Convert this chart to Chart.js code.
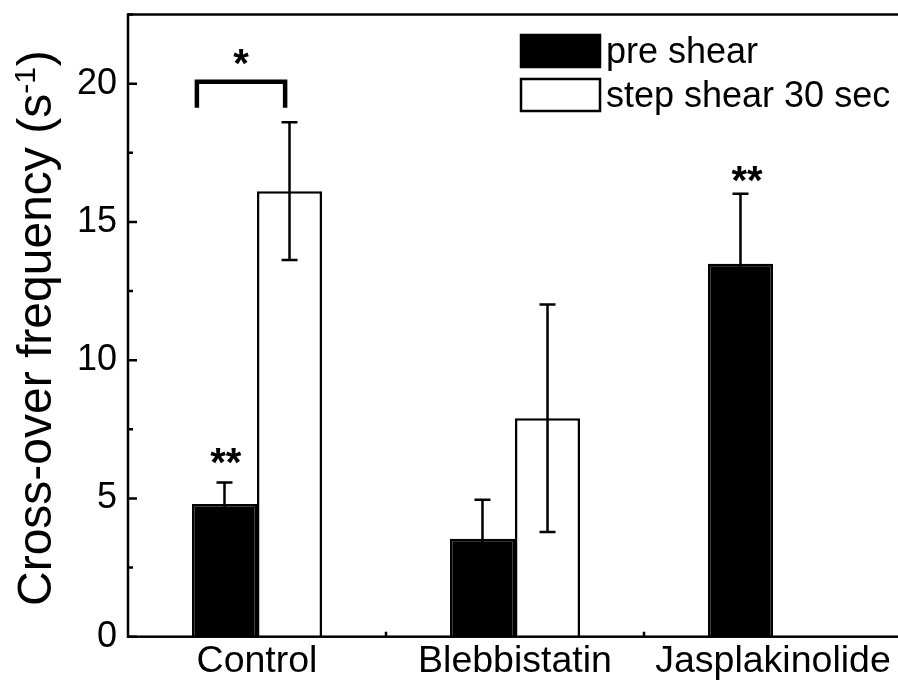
<!DOCTYPE html>
<html>
<head>
<meta charset="utf-8">
<script src="https://cdn.jsdelivr.net/npm/chart.js@4.4.1/dist/chart.umd.min.js"></script>
<style>
body { margin: 0; background: #fff; overflow: hidden; }
#wrap { width: 910px; height: 682px; }
</style>
</head>
<body>
<div id="wrap"><canvas id="chart1"></canvas></div>
<script>
var categories = ['Control', 'Blebbistatin', 'Jasplakinolide']
var seriesNames = ['pre shear', 'step shear 30 sec']
var preShear = [4.8, 3.54, 13.49]
var preShearErr = [0.78, 1.41, 2.53]
var stepShear = [16.11, 7.9, null]
var stepShearErr = [2.49, 4.11, null]
var yTicks = [0, 5, 10, 15, 20]

// significance marks: category, dataset, x shift (bar widths), y of the mark centre, text
var sigMarks = [
    [0, 0, 0.02, 6.54, '**'],
    [2, 0, 0.1, 16.73, '**']
]
// bracket over control: x from/to as fraction of category width, y bottom/top, star y
var bracketX = [-0.233, 0.109]
var bracketY = [19.13, 20.07]
var bracketStarY = 20.95

var FONT = '"Liberation Sans", Arial, sans-serif'

function px(size, bold) {
    return (bold ? 'bold ' : '') + size + 'px ' + FONT
}

function drawStar(ctx, text, x, yc, size) {
    ctx.font = px(size, true)
    var m = ctx.measureText(text)
    var base = yc - (m.actualBoundingBoxDescent - m.actualBoundingBoxAscent) / 2
    ctx.textAlign = 'center'
    ctx.textBaseline = 'alphabetic'
    ctx.fillText(text, x, base)
}

var extras = {
    id: 'extras',
    afterDatasetsDraw: function(chart) {
        var ctx = chart.ctx
        var xs = chart.scales.x
        var ys = chart.scales.y
        var area = chart.chartArea
        ctx.save()
        ctx.strokeStyle = '#000'
        ctx.fillStyle = '#000'

        // error bars
        var errs = [preShearErr, stepShearErr]
        ctx.lineWidth = 2.5
        for (var d = 0; d < 2; d++) {
            var meta = chart.getDatasetMeta(d)
            var vals = chart.data.datasets[d].data
            for (var i = 0; i < vals.length; i++) {
                if (vals[i] == null) continue
                var x = meta.data[i].x
                var top = ys.getPixelForValue(vals[i] + errs[d][i])
                var bot = ys.getPixelForValue(vals[i] - errs[d][i])
                ctx.beginPath()
                ctx.moveTo(x, bot); ctx.lineTo(x, top)
                ctx.moveTo(x - 8, top); ctx.lineTo(x + 8, top)
                ctx.moveTo(x - 8, bot); ctx.lineTo(x + 8, bot)
                ctx.stroke()
            }
        }

        // stars
        for (var s = 0; s < sigMarks.length; s++) {
            var mk = sigMarks[s]
            var el = chart.getDatasetMeta(mk[1]).data[mk[0]]
            drawStar(ctx, mk[4], el.x + mk[2] * el.width, ys.getPixelForValue(mk[3]), 40)
        }

        // bracket
        var catW = xs.getPixelForValue(1) - xs.getPixelForValue(0)
        var c0 = xs.getPixelForValue(0)
        var bx0 = c0 + bracketX[0] * catW
        var bx1 = c0 + bracketX[1] * catW
        var by0 = ys.getPixelForValue(bracketY[0])
        var by1 = ys.getPixelForValue(bracketY[1])
        ctx.lineWidth = 4.5
        ctx.lineJoin = 'miter'
        ctx.beginPath()
        ctx.moveTo(bx0, by0); ctx.lineTo(bx0, by1); ctx.lineTo(bx1, by1); ctx.lineTo(bx1, by0)
        ctx.stroke()
        drawStar(ctx, '*', (bx0 + bx1) / 2, ys.getPixelForValue(bracketStarY), 40)

        // frame
        ctx.lineWidth = 2.5
        ctx.strokeRect(area.left, area.top, area.right - area.left, area.bottom - area.top)

        // inward ticks on y
        ctx.beginPath()
        for (var v = 0; v <= ys.max; v += 2.5) {
            var yy = ys.getPixelForValue(v)
            var len = (v % 5 == 0) ? 9 : 5
            ctx.moveTo(area.left, yy); ctx.lineTo(area.left + len, yy)
        }
        // small ticks between categories on x
        for (var c = 0; c < categories.length - 1; c++) {
            var xb = (xs.getPixelForValue(c) + xs.getPixelForValue(c + 1)) / 2
            ctx.moveTo(xb, area.bottom); ctx.lineTo(xb, area.bottom - 5)
        }
        ctx.stroke()

        // legend
        var lx = area.left + 393
        var ly = [35, 79]
        var ds = chart.data.datasets
        ctx.font = px(36)
        ctx.textAlign = 'left'
        ctx.textBaseline = 'alphabetic'
        for (var k = 0; k < ds.length; k++) {
            ctx.fillStyle = ds[k].backgroundColor
            ctx.fillRect(lx, ly[k], 79, 32)
            ctx.lineWidth = 2.5
            ctx.strokeRect(lx, ly[k], 79, 32)
            ctx.fillStyle = '#000'
            ctx.fillText(ds[k].label, lx + 85, ly[k] + 28)
        }

        // y title with superscript
        var cy = (area.top + area.bottom) / 2 + 3
        ctx.translate(51, cy)
        ctx.rotate(-Math.PI / 2)
        var main = 'Cross-over frequency (s'
        ctx.font = px(48)
        var w1 = ctx.measureText(main).width
        var w3 = ctx.measureText(')').width
        ctx.font = px(30)
        var w2 = ctx.measureText('-1').width
        var x0 = -(w1 + w2 + w3) / 2
        ctx.fillStyle = '#000'
        ctx.font = px(48)
        ctx.fillText(main, x0, 0)
        ctx.font = px(30)
        ctx.fillText('-1', x0 + w1, -16)
        ctx.font = px(48)
        ctx.fillText(')', x0 + w1 + w2 + 1, 0)
        ctx.restore()
    }
}

new Chart(document.getElementById('chart1'), {
    type: 'bar',
    data: {
        labels: categories,
        datasets: [{
            label: seriesNames[0],
            data: preShear,
            backgroundColor: '#000',
            borderColor: '#000',
            borderWidth: 2.5
        }, {
            label: seriesNames[1],
            data: stepShear,
            backgroundColor: '#fff',
            borderColor: '#000',
            borderWidth: 2.5
        }]
    },
    options: {
        responsive: true,
        maintainAspectRatio: false,
        animation: false,
        layout: { padding: { top: 14.5, right: 8, left: 0, bottom: 0 } },
        datasets: { bar: { categoryPercentage: 0.504, barPercentage: 1 } },
        plugins: { legend: { display: false }, tooltip: { enabled: false } },
        scales: {
            x: {
                grid: { display: false, drawTicks: false },
                border: { display: false },
                ticks: { color: '#000', font: { family: FONT, size: 37.5 }, padding: 2 },
                afterFit: function(scale) {
                    scale.height = 45.3
                    scale.paddingLeft = 0
                    scale.paddingRight = 0
                }
            },
            y: {
                min: 0,
                max: 22.5,
                grid: { display: false, drawTicks: false },
                border: { display: false },
                ticks: {
                    stepSize: 5,
                    includeBounds: false,
                    color: '#000',
                    font: { family: FONT, size: 36 },
                    padding: 11,
                    callback: function(v) { return yTicks.indexOf(v) >= 0 ? String(v) : '' }
                },
                afterFit: function(scale) {
                    scale.width = 128
                    scale.paddingTop = 0
                    scale.paddingBottom = 0
                }
            }
        }
    },
    plugins: [extras]
});
</script>
</body>
</html>
